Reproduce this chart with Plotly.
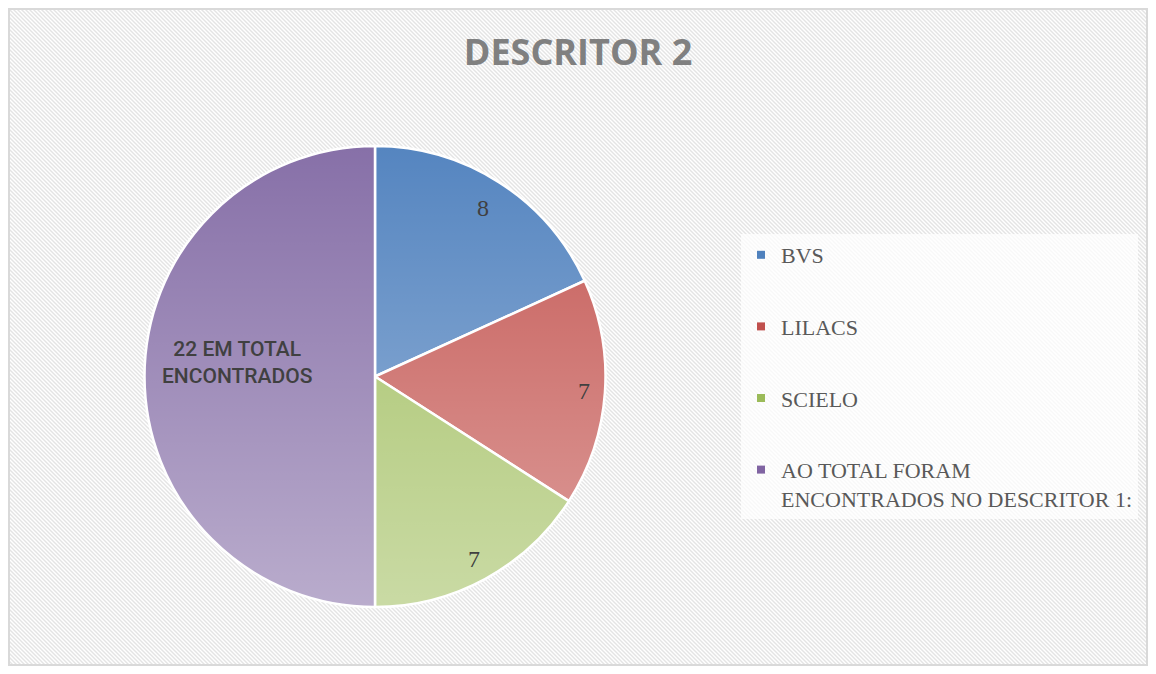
import base64
import math
import plotly.graph_objects as go

# ---- data ----
labels = ["BVS", "LILACS", "SCIELO", "AO TOTAL FORAM ENCONTRADOS NO DESCRITOR 1:"]
legend_names = ["BVS", "LILACS", "SCIELO", "AO TOTAL FORAM<br>ENCONTRADOS NO DESCRITOR 1:"]
values = [8, 7, 7, 22]
slice_text = ["8", "7", "7", "22 EM TOTAL<br>ENCONTRADOS"]
title_text = "DESCRITOR 2"

# ---- styles ----
slice_colors = ["#5585c0", "#c55955", "#a3c063", "#8770a8"]
legend_colors = ["#4f81bd", "#c0504d", "#9bbb59", "#8064a2"]
label_radius = [0.87, 0.91, 0.90, 0.60]      # label distance from centre, as a fraction of radius
label_yshift = [0, 0, 0, 14]
label_fonts = ["Liberation Serif", "Liberation Serif", "Liberation Serif", "Roboto"]
label_sizes = [24, 24, 24, 21]
label_weights = [400, 400, 400, 500]

# page body has an 8px margin; figure sized to fit the 1156x674 window
W, H = 1140, 658
CX, CY, R = 367, 368.5, 230.5   # pie centre / radius in figure pixels (y from top)

dom_x = [(CX - R) / W, (CX + R) / W]
dom_y = [(H - CY - R) / H, (H - CY + R) / H]

# hatched background as an SVG image
bg_svg = f'''<svg xmlns="http://www.w3.org/2000/svg" width="{W}" height="{H}">
<defs><pattern id="p" patternUnits="userSpaceOnUse" width="4" height="4">
<rect width="4" height="4" fill="#ffffff"/>
<path d="M-1,-1 L5,5 M-1,3 L1,5 M3,-1 L5,1" stroke="#e4e4e4" stroke-width="1.4"/>
</pattern></defs>
<rect x="0" y="0" width="{W}" height="{H}" fill="url(#p)"/>
<rect x="1" y="1" width="{W-2}" height="{H-2}" fill="none" stroke="#d9d9d9" stroke-width="2"/>
</svg>'''
bg_src = "data:image/svg+xml;base64," + base64.b64encode(bg_svg.encode()).decode()

# vertical light gradient over the pie (shading only)
gr_svg = '''<svg xmlns="http://www.w3.org/2000/svg" width="200" height="200" viewBox="0 0 200 200">
<defs><linearGradient id="g" x1="0" y1="0" x2="0" y2="1">
<stop offset="0" stop-color="#ffffff" stop-opacity="0"/>
<stop offset="1" stop-color="#ffffff" stop-opacity="0.42"/>
</linearGradient></defs>
<circle cx="100" cy="100" r="100" fill="url(#g)"/>
</svg>'''
gr_src = "data:image/svg+xml;base64," + base64.b64encode(gr_svg.encode()).decode()

fig = go.Figure()

fig.add_trace(go.Pie(
    labels=labels,
    values=values,
    textinfo="none",
    sort=False,
    direction="clockwise",
    rotation=0,
    marker=dict(colors=slice_colors, line=dict(color="white", width=2.5)),
    showlegend=False,
    domain=dict(x=dom_x, y=dom_y),
    hoverinfo="label+value",
))

for name, col in zip(legend_names, legend_colors):
    fig.add_trace(go.Scatter(
        x=[None], y=[None], mode="markers", name=name,
        marker=dict(symbol="square", size=8, color=col),
        legendgroup=name, hoverinfo="skip",
    ))

# slice labels, placed along each slice's bisector
total = sum(values)
cum = 0
annotations = []
for v, t, rf, ys, fam, sz, wt in zip(values, slice_text, label_radius, label_yshift,
                                     label_fonts, label_sizes, label_weights):
    mid = (cum + v / 2) / total * 2 * math.pi
    cum += v
    px = CX + rf * R * math.sin(mid)
    py = CY - rf * R * math.cos(mid)
    annotations.append(dict(
        x=px / W, y=1 - py / H, xref="paper", yref="paper", yshift=ys,
        text=t, showarrow=False, xanchor="center", yanchor="middle",
        font=dict(family=fam, size=sz, color="#404040", weight=wt), align="center",
    ))

fig.update_layout(
    width=W, height=H,
    margin=dict(l=0, r=0, t=0, b=0),
    paper_bgcolor="white",
    plot_bgcolor="rgba(0,0,0,0)",
    xaxis=dict(visible=False),
    yaxis=dict(visible=False),
    title=dict(text=f"<b>{title_text}</b>", x=0.5, xanchor="center", y=1 - 44 / H, yanchor="middle",
               font=dict(family="Open Sans", size=36, color="#808080")),
    legend=dict(
        x=733 / W, y=1 - 226 / H, xanchor="left", yanchor="top",
        bgcolor="rgba(255,255,255,0.75)",
        font=dict(family="Liberation Serif", size=22, color="#595959"),
        tracegroupgap=40, itemwidth=30, valign="top",
        traceorder="grouped",
    ),
    annotations=annotations,
    images=[
        dict(source=bg_src, xref="paper", yref="paper", x=0, y=1, sizex=1, sizey=1,
             xanchor="left", yanchor="top", sizing="stretch", layer="below"),
        dict(source=gr_src, xref="paper", yref="paper", x=dom_x[0], y=dom_y[1],
             sizex=dom_x[1] - dom_x[0], sizey=dom_y[1] - dom_y[0],
             xanchor="left", yanchor="top", sizing="stretch", layer="above"),
    ],
)

fig.write_html("out.html")
